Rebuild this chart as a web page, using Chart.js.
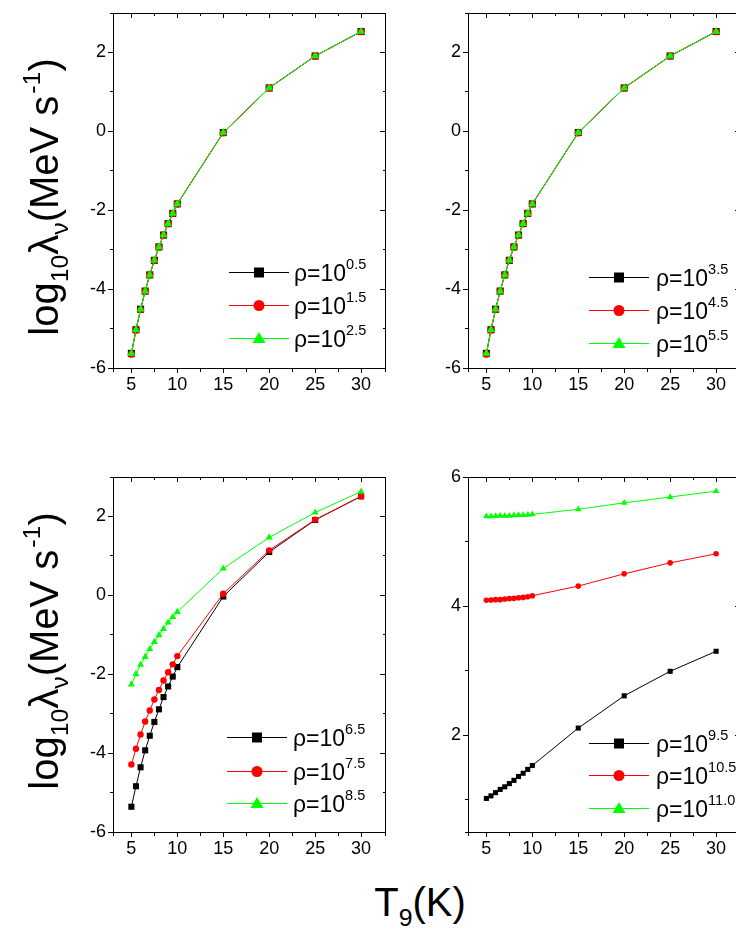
<!DOCTYPE html>
<html>
<head>
<meta charset="utf-8">
<script src="https://cdn.jsdelivr.net/npm/chart.js@4.4.1/dist/chart.umd.min.js"></script>
<style>
html,body{margin:0;padding:0;background:#fff;overflow:hidden;width:736px;height:933px;}
canvas{position:absolute;}
.lab{position:absolute;font-family:'Liberation Sans',Arial,sans-serif;font-size:40px;line-height:1;height:40px;white-space:nowrap;color:#000;}
.ylab{transform:translate(-50%,-50%) rotate(-90deg);}
.xlab{transform:translateX(-50%);}
.sub{font-size:0.62em;vertical-align:-0.42em;line-height:1;}
.sup{font-size:0.62em;vertical-align:0.72em;line-height:1;margin-left:2px;}
</style>
</head>
<body>
<canvas id="pA" width="400" height="420" style="left:0;top:0"></canvas>
<canvas id="pB" width="380" height="420" style="left:380px;top:0"></canvas>
<canvas id="pC" width="400" height="440" style="left:0;top:440px"></canvas>
<canvas id="pD" width="380" height="440" style="left:380px;top:440px"></canvas>
<div class="lab ylab" style="left:40px;top:197px">log<span class="sub">10</span>λ<span class="sub">ν</span>(MeV s<span class="sup">-1</span>)</div>
<div class="lab ylab" style="left:40px;top:651px">log<span class="sub">10</span>λ<span class="sub">ν</span>(MeV s<span class="sup">-1</span>)</div>
<div class="lab xlab" style="left:420px;top:882px">T<span class="sub">9</span>(K)</div>
<script>
// ---------------- data ----------------
const T9 = [5, 5.5, 6, 6.5, 7, 7.5, 8, 8.5, 9, 9.5, 10, 15, 20, 25, 30];

// panel (top-left)
const rhoExpA = ['0.5', '1.5', '2.5'];
const lamA1 = [-5.63, -5.03, -4.51, -4.05, -3.64, -3.27, -2.93, -2.63, -2.34, -2.08, -1.84, -0.03, 1.10, 1.91, 2.53];
const lamA2 = [-5.65, -5.04, -4.52, -4.05, -3.64, -3.27, -2.93, -2.63, -2.34, -2.08, -1.84, -0.04, 1.10, 1.91, 2.53];
const lamA3 = [-5.63, -5.03, -4.51, -4.05, -3.64, -3.27, -2.93, -2.63, -2.34, -2.08, -1.84, -0.03, 1.10, 1.91, 2.53];

// panel (top-right)
const rhoExpB = ['3.5', '4.5', '5.5'];
const lamB1 = [-5.63, -5.03, -4.51, -4.05, -3.64, -3.27, -2.93, -2.63, -2.34, -2.08, -1.84, -0.03, 1.10, 1.91, 2.53];
const lamB2 = [-5.65, -5.04, -4.52, -4.05, -3.64, -3.27, -2.93, -2.63, -2.34, -2.08, -1.84, -0.04, 1.10, 1.91, 2.53];
const lamB3 = [-5.63, -5.03, -4.51, -4.05, -3.64, -3.27, -2.93, -2.63, -2.34, -2.08, -1.84, -0.03, 1.10, 1.91, 2.53];

// panel (bottom-left)
const rhoExpC = ['6.5', '7.5', '8.5'];
const lamC1 = [-5.36, -4.84, -4.36, -3.93, -3.56, -3.21, -2.89, -2.58, -2.31, -2.06, -1.82, -0.03, 1.10, 1.91, 2.51];
const lamC2 = [-4.29, -3.89, -3.53, -3.20, -2.92, -2.64, -2.40, -2.16, -1.95, -1.75, -1.54, 0.04, 1.14, 1.92, 2.51];
const lamC3 = [-2.26, -2.00, -1.76, -1.56, -1.36, -1.18, -1.01, -0.85, -0.69, -0.55, -0.42, 0.68, 1.47, 2.10, 2.63];

// panel (bottom-right)
const rhoExpD = ['9.5', '10.5', '11.0'];
const lamD1 = [1.02, 1.06, 1.11, 1.16, 1.20, 1.25, 1.30, 1.36, 1.41, 1.47, 1.53, 2.11, 2.61, 2.99, 3.30];
const lamD2 = [4.09, 4.095, 4.10, 4.10, 4.11, 4.115, 4.12, 4.13, 4.135, 4.145, 4.16, 4.31, 4.50, 4.67, 4.81];
const lamD3 = [5.39, 5.39, 5.395, 5.40, 5.40, 5.40, 5.405, 5.41, 5.41, 5.415, 5.42, 5.50, 5.60, 5.69, 5.78];

// axis ranges
const xRange = [3, 32.6];
const yRangeTop = [-6, 3];
const yRangeLow = [-6, 3];
const yRangeD = [0.5, 6];

// ---------------- styling ----------------
const FONT = "'Liberation Sans', Arial, sans-serif";
const COLORS = ['#000000', '#ff0000', '#00ff00'];
const STYLES = ['rect', 'circle', 'triangle'];

function isMult(v, m) { return Math.abs(v / m - Math.round(v / m)) < 1e-6; }

const legendPlugin = {
  id: 'rhoLegend',
  afterDraw(chart, args, o) {
    const ctx = chart.ctx, a = chart.chartArea;
    chart.data.datasets.forEach((ds, i) => {
      const y = Math.round(a.bottom - o.rows[i]) + 0.5;
      const x0 = Math.round(a.left + o.x);
      const cx = x0 + 30;
      ctx.save();
      ctx.strokeStyle = ds.borderColor; ctx.lineWidth = 1;
      ctx.beginPath(); ctx.moveTo(x0, y); ctx.lineTo(x0 + 60, y); ctx.stroke();
      ctx.fillStyle = ds.backgroundColor;
      ctx.beginPath();
      if (ds.pointStyle === 'rect') { ctx.rect(cx - 5, y - 5, 10, 10); }
      else if (ds.pointStyle === 'circle') { ctx.arc(cx, y, 5.5, 0, Math.PI * 2); }
      else { ctx.moveTo(cx, y - 6.5); ctx.lineTo(cx + 6.5, y + 4.5); ctx.lineTo(cx - 6.5, y + 4.5); ctx.closePath(); }
      ctx.fill();
      ctx.fillStyle = '#000';
      ctx.textBaseline = 'alphabetic'; ctx.textAlign = 'left';
      ctx.font = '23px ' + FONT;
      const tx = x0 + o.tdx;
      ctx.fillText('ρ=10', tx, y + 8);
      const w = ctx.measureText('ρ=10').width;
      ctx.font = '14.5px ' + FONT;
      ctx.fillText(o.exps[i], tx + w, y - 3.5);
      ctx.restore();
    });
  }
};

function makeChart(id, sets, exps, yr, geo, radii, leg) {
  const datasets = sets.map((vals, i) => ({
    label: 'ρ=10^' + exps[i],
    data: T9.map((t, k) => ({ x: t, y: vals[k] })),
    borderColor: COLORS[i], backgroundColor: COLORS[i],
    pointBackgroundColor: COLORS[i], pointBorderColor: COLORS[i],
    borderWidth: 1, pointStyle: STYLES[i], pointRadius: radii[i],
    pointBorderWidth: 0, tension: 0, order: 2 - i, clip: false
  }));
  const tickFont = { family: FONT, size: 18 };
  const xMajor = c => c.tick && isMult(c.tick.value, 5);
  const yMajor = c => c.tick && isMult(c.tick.value, 2);
  const border = { display: true, color: '#000', width: 1 };
  return new Chart(document.getElementById(id), {
    type: 'line',
    data: { datasets },
    options: {
      responsive: false, animation: false, events: [],
      layout: { padding: { top: geo.top, right: geo.right, left: 0, bottom: 0 } },
      plugins: { legend: { display: false }, tooltip: { enabled: false },
                 rhoLegend: Object.assign({ exps }, leg) },
      scales: {
        x: {
          type: 'linear', position: 'bottom', min: xRange[0], max: xRange[1],
          ticks: { stepSize: 2.5, autoSkip: false, maxRotation: 0, color: '#000', font: tickFont, padding: 1,
                   callback: v => isMult(v, 5) ? String(v) : '' },
          grid: { drawOnChartArea: false, tickLength: 5, tickColor: '#000', tickWidth: 1,
                  tickBorderDash: c => xMajor(c) ? [] : [3, 30] },
          border, afterFit: s => { s.height = geo.xh; }
        },
        x2: {
          type: 'linear', position: 'top', min: xRange[0], max: xRange[1],
          ticks: { stepSize: 2.5, display: false },
          grid: { drawOnChartArea: false, tickLength: -5, tickColor: '#000', tickWidth: 1,
                  tickBorderDash: c => xMajor(c) ? [] : [0, 2, 3, 30] },
          border, afterFit: s => { s.height = 0; }
        },
        y: {
          type: 'linear', position: 'left', min: yr[0], max: yr[1],
          ticks: { stepSize: 1, autoSkip: false, color: '#000', font: tickFont, padding: 2,
                   callback: v => isMult(v, 2) ? String(v) : '' },
          grid: { drawOnChartArea: false, tickLength: 5, tickColor: '#000', tickWidth: 1,
                  tickBorderDash: c => yMajor(c) ? [] : [0, 2, 3, 30] },
          border, afterFit: s => { s.width = geo.yw; }
        },
        y2: {
          type: 'linear', position: 'right', min: yr[0], max: yr[1],
          ticks: { stepSize: 1, display: false },
          grid: { drawOnChartArea: false, tickLength: -5, tickColor: '#000', tickWidth: 1,
                  tickBorderDash: c => yMajor(c) ? [] : [3, 30] },
          border, afterFit: s => { s.width = 0; }
        }
      }
    },
    plugins: [legendPlugin]
  });
}

makeChart('pA', [lamA1, lamA2, lamA3], rhoExpA, yRangeTop,
  { top: 13, right: 15, yw: 113, xh: 52 }, [5, 3.6, 4.6],
  { x: 116, rows: [96, 63, 30], tdx: 65 });
makeChart('pB', [lamB1, lamB2, lamB3], rhoExpB, yRangeTop,
  { top: 13, right: 20, yw: 88, xh: 52 }, [5, 3.6, 4.6],
  { x: 121, rows: [91, 58, 25], tdx: 67 });
makeChart('pC', [lamC1, lamC2, lamC3], rhoExpC, yRangeLow,
  { top: 37, right: 15, yw: 113, xh: 48 }, [4.3, 3.2, 4.1],
  { x: 114, rows: [95, 61, 29], tdx: 66 });
makeChart('pD', [lamD1, lamD2, lamD3], rhoExpD, yRangeD,
  { top: 37, right: 20, yw: 88, xh: 48 }, [3.6, 2.8, 3.8],
  { x: 121, rows: [89, 57, 24], tdx: 67 });
</script>
</body>
</html>
